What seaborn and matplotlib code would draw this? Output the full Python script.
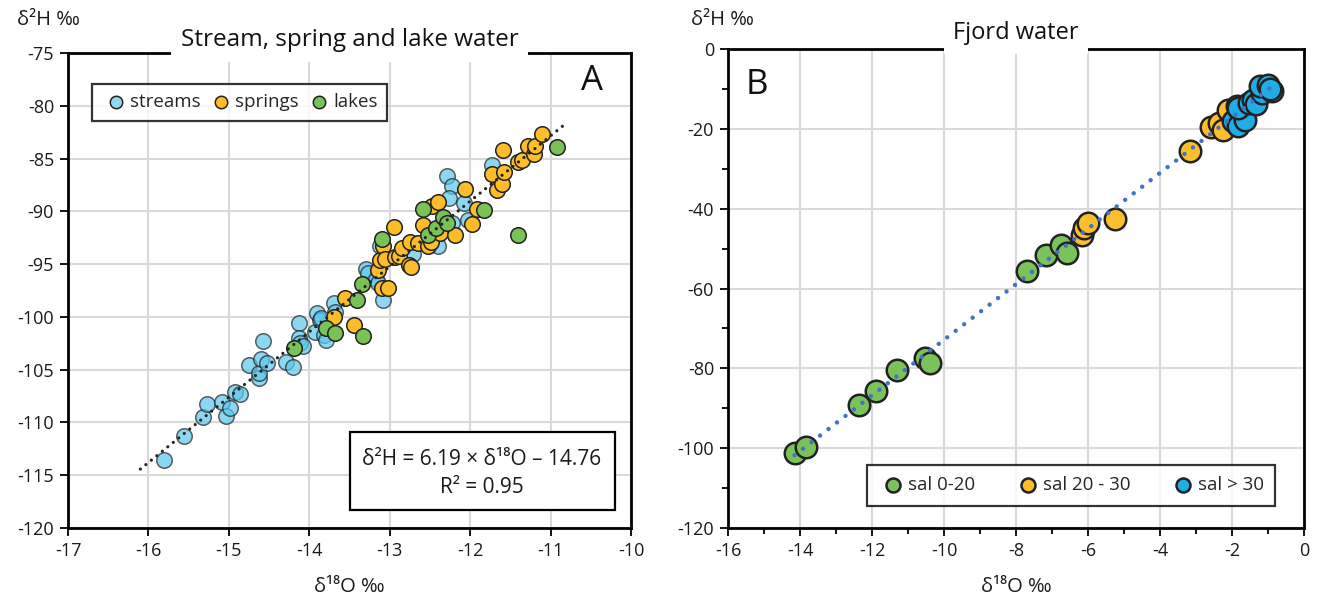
import numpy as np
import pandas as pd
import matplotlib
matplotlib.use("Agg")
import matplotlib.pyplot as plt
from matplotlib.ticker import MultipleLocator
from matplotlib.patches import Rectangle
import seaborn as sns

# ---------------- Panel A data ----------------
streams_x = [-15.81, -15.56, -15.32, -15.27, -15.09, -15.03, -14.99, -14.92, -14.86, -14.75,
             -14.63, -14.62, -14.60, -14.58, -14.52, -14.29, -14.20, -14.13, -14.13, -14.11,
             -14.08, -13.91, -13.93, -13.87, -13.85, -13.82, -13.79, -13.69, -13.68, -13.29,
             -13.27, -13.17, -13.15, -13.08, -13.12, -12.71, -12.40, -12.29, -12.22, -12.26,
             -12.08, -12.03, -12.22, -11.73]
streams_y = [-113.6, -111.25, -109.5, -108.3, -108.1, -109.4, -108.6, -107.1, -107.3, -104.6,
             -105.8, -105.3, -104.0, -102.3, -104.4, -104.3, -104.7, -100.6, -102.0, -102.5,
             -102.8, -99.6, -101.4, -100.3, -100.1, -101.7, -102.2, -98.7, -99.5, -95.5,
             -95.8, -96.4, -96.8, -98.4, -93.3, -94.0, -93.3, -86.7, -87.6, -88.7,
             -89.2, -90.8, -91.1, -85.6]

springs_x = [-13.69, -13.56, -13.44, -13.15, -13.12, -13.10, -13.02, -13.08, -13.06, -12.95,
             -12.93, -12.89, -12.85, -12.76, -12.74, -12.75, -12.65, -12.58, -12.53, -12.49,
             -12.47, -12.40, -12.38, -12.19, -12.06, -11.98, -11.91, -11.73, -11.66, -11.61,
             -11.58, -11.59, -11.41, -11.35, -11.28, -11.21, -11.19, -11.11]
springs_y = [-100.0, -98.2, -100.8, -95.6, -94.6, -97.3, -97.3, -93.3, -94.5, -91.5,
             -94.3, -94.2, -93.5, -95.1, -95.3, -92.9, -93.0, -91.3, -93.3, -92.9,
             -89.5, -89.1, -92.1, -92.2, -87.9, -91.2, -89.8, -86.5, -88.0, -87.4,
             -86.3, -84.2, -85.3, -85.1, -83.8, -84.6, -83.8, -82.7]

lakes_x = [-14.19, -13.79, -13.68, -13.41, -13.35, -13.33, -13.09, -12.59, -12.53, -12.43,
           -12.34, -12.29, -11.83, -11.41, -10.92]
lakes_y = [-102.9, -101.1, -101.5, -98.4, -96.9, -101.8, -92.6, -89.8, -92.2, -91.6,
           -90.5, -91.1, -89.9, -92.2, -83.9]

fit_a_slope = 6.19
fit_a_icpt = -14.76
fit_a_r2 = 0.95
fit_a_xrange = [-16.1, -10.85]

# ---------------- Panel B data ----------------
sal1_x = [-14.15, -13.82, -12.36, -11.89, -11.30, -10.52, -10.38, -7.69, -7.16, -6.76, -6.57]
sal1_y = [-101.2, -99.7, -89.2, -85.6, -80.5, -77.4, -78.6, -55.5, -51.5, -49.0, -51.2]
sal2_x = [-6.18, -6.10, -6.01, -5.24, -3.16, -2.59, -2.37, -2.24, -2.11, -1.87]
sal2_y = [-46.5, -44.8, -43.6, -42.6, -25.5, -19.5, -18.5, -20.4, -15.2, -14.4]
sal3_x = [-1.98, -1.82, -1.65, -1.82, -1.54, -1.43, -1.32, -1.16, -1.22, -1.00, -0.88, -0.95]
sal3_y = [-18.1, -19.4, -17.7, -14.8, -13.5, -12.7, -13.9, -11.0, -9.3, -8.9, -10.6, -10.0]

# ---------------- style ----------------
sns.set_theme(style="white")
plt.rcParams['font.family'] = ['Open Sans', 'DejaVu Sans']
plt.rcParams['axes.unicode_minus'] = False

C_STREAM = '#5CC8EE'
C_SPRING = '#FDBD2A'
C_LAKE = '#78C257'
C_B_GREEN = '#7AC25A'
C_B_ORANGE = '#FDBE2D'
C_B_BLUE = '#1FADE4'
EDGE = '#222222'
GRID = '#D9D9D9'
TXT = '#1a1a1a'

fig = plt.figure(figsize=(13.17, 6.03), dpi=100)
axA = fig.add_axes([68/1317, 75/603, 563/1317, 475/603])
axB = fig.add_axes([728/1317, 75/603, 576/1317, 479/603])


def style_axes(ax):
    for s in ax.spines.values():
        s.set_color('black')
        s.set_linewidth(2.0)
    ax.grid(True, which='major', color=GRID, linewidth=1.5)
    ax.set_axisbelow(True)
    ax.tick_params(axis='both', which='both', direction='out', color='black',
                   width=1.3, labelsize=13, labelcolor=TXT, bottom=True, left=True)
    ax.tick_params(axis='both', which='major', length=6, pad=4)
    ax.tick_params(axis='both', which='minor', length=4)


# ---------------- Panel A ----------------
dfA = pd.concat([
    pd.DataFrame({'x': streams_x, 'y': streams_y, 'group': 'streams'}),
    pd.DataFrame({'x': springs_x, 'y': springs_y, 'group': 'springs'}),
    pd.DataFrame({'x': lakes_x, 'y': lakes_y, 'group': 'lakes'}),
])
sns.scatterplot(data=dfA[dfA.group == 'streams'], x='x', y='y', ax=axA, color=C_STREAM,
                alpha=0.7, s=125, edgecolor=EDGE, linewidth=1.1, label='streams', zorder=3)
sns.scatterplot(data=dfA[dfA.group == 'springs'], x='x', y='y', ax=axA, color=C_SPRING,
                s=125, edgecolor=EDGE, linewidth=1.1, label='springs', zorder=4)
sns.scatterplot(data=dfA[dfA.group == 'lakes'], x='x', y='y', ax=axA, color=C_LAKE,
                s=125, edgecolor=EDGE, linewidth=1.1, label='lakes', zorder=5)

fx = np.array(fit_a_xrange)
sns.lineplot(x=fx, y=fit_a_slope * fx + fit_a_icpt, ax=axA, color='#222222',
             linestyle=(0, (0.01, 2.2)), linewidth=2.3, zorder=6, legend=False,
             dash_capstyle='round')

axA.set_xlim(-17, -10)
axA.set_ylim(-120, -75)
axA.xaxis.set_major_locator(MultipleLocator(1))
axA.yaxis.set_major_locator(MultipleLocator(5))
style_axes(axA)
axA.set_ylabel('')
axA.set_xlabel('δ¹⁸O ‰', fontsize=14.5, labelpad=12, color=TXT)

legA = axA.legend(loc='upper left', bbox_to_anchor=(0.043, 0.935), ncol=3, frameon=True,
                  fancybox=False, edgecolor='black', fontsize=13.5, handletextpad=0.0,
                  columnspacing=0.35, borderpad=0.5, markerscale=0.8, borderaxespad=0,
                  handlelength=1.5)
legA.get_frame().set_linewidth(1.6)
for h in legA.legend_handles:
    h.set_alpha(1)
legA.legend_handles[0].set_facecolor('#8DD8F3')

axA.text(0.931, 0.94, 'A', transform=axA.transAxes, fontsize=25, ha='center', va='center',
         color='#111111')

# equation box
axA.add_patch(Rectangle(((350-68)/563, (528-510)/475), 265/563, 78/475, transform=axA.transAxes,
                        facecolor='white', edgecolor='black', linewidth=1.6, zorder=7))
axA.text(0.735, 0.145, 'δ²H = 6.19 × δ¹⁸O – 14.76', transform=axA.transAxes, fontsize=15,
         ha='center', va='center', zorder=8, color=TXT)
axA.text(0.735, 0.086, 'R² = 0.95', transform=axA.transAxes, fontsize=15,
         ha='center', va='center', zorder=8, color=TXT)

axA.text(0.5, 1.0 + 13/475, 'Stream, spring and lake water', transform=axA.transAxes,
         fontsize=17.5, ha='center', va='center', color='#111111', zorder=10,
         bbox=dict(boxstyle='square,pad=0.4', facecolor='white', edgecolor='none'))
fig.text(48/1317, 1 - 20/603, 'δ²H ‰', fontsize=14.5, ha='center', va='center', color=TXT)

# ---------------- Panel B ----------------
dfB = pd.concat([
    pd.DataFrame({'x': sal1_x, 'y': sal1_y, 'group': 'sal 0-20'}),
    pd.DataFrame({'x': sal2_x, 'y': sal2_y, 'group': 'sal 20 - 30'}),
    pd.DataFrame({'x': sal3_x, 'y': sal3_y, 'group': 'sal > 30'}),
])
for grp, col, z in [('sal 0-20', C_B_GREEN, 3), ('sal 20 - 30', C_B_ORANGE, 4), ('sal > 30', C_B_BLUE, 5)]:
    sns.scatterplot(data=dfB[dfB.group == grp], x='x', y='y', ax=axB, color=col, s=240,
                    edgecolor=EDGE, linewidth=1.8, label=grp, zorder=z)

bx = np.array(dfB.x)
by = np.array(dfB.y)
slope_b, icpt_b = np.polyfit(bx, by, 1)
lx = np.array([bx.min(), bx.max()])
sns.lineplot(x=lx, y=slope_b * lx + icpt_b, ax=axB, color='#4472C4',
             linestyle=(0, (0.01, 2.4)), linewidth=3.2, zorder=6, legend=False,
             dash_capstyle='round')

axB.set_xlim(-16, 0)
axB.set_ylim(-120, 0)
axB.xaxis.set_major_locator(MultipleLocator(2))
axB.xaxis.set_minor_locator(MultipleLocator(1))
axB.yaxis.set_major_locator(MultipleLocator(20))
axB.yaxis.set_minor_locator(MultipleLocator(10))
style_axes(axB)
axB.set_ylabel('')
axB.set_xlabel('δ¹⁸O ‰', fontsize=14.5, labelpad=12, color=TXT)

legB = axB.legend(loc='upper left', bbox_to_anchor=(0.241, 0.1315), ncol=3, frameon=True,
                  fancybox=False, edgecolor='black', fontsize=13.5, handletextpad=0.0,
                  columnspacing=2.0, borderpad=0.6, markerscale=0.65, borderaxespad=0,
                  handlelength=1.6)
legB.get_frame().set_linewidth(1.6)
legB.set_zorder(9)

axB.text(0.05, 0.925, 'B', transform=axB.transAxes, fontsize=25, ha='center', va='center',
         color='#111111')
axB.text(0.5, 1.0 + 16/479, 'Fjord water', transform=axB.transAxes,
         fontsize=17, ha='center', va='center', color='#111111', zorder=10,
         bbox=dict(boxstyle='square,pad=0.4', facecolor='white', edgecolor='none'))
fig.text(722/1317, 1 - 20/603, 'δ²H ‰', fontsize=14.5, ha='center', va='center', color=TXT)

fig.savefig('out.png', dpi=100)
